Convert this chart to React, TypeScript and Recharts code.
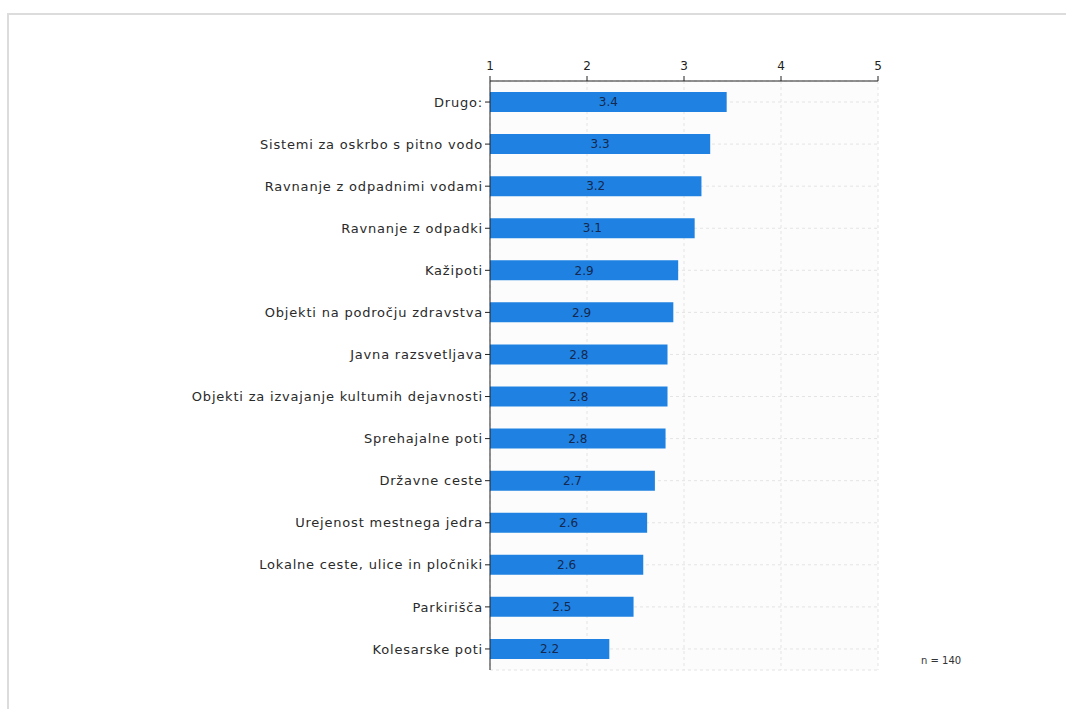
import React from "react";
import { BarChart, Bar, XAxis, YAxis, CartesianGrid, LabelList } from "recharts";

const categories = [
  "Drugo:",
  "Sistemi za oskrbo s pitno vodo",
  "Ravnanje z odpadnimi vodami",
  "Ravnanje z odpadki",
  "Kažipoti",
  "Objekti na področju zdravstva",
  "Javna razsvetljava",
  "Objekti za izvajanje kultumih dejavnosti",
  "Sprehajalne poti",
  "Državne ceste",
  "Urejenost mestnega jedra",
  "Lokalne ceste, ulice in pločniki",
  "Parkirišča",
  "Kolesarske poti",
];

const values = [3.44, 3.27, 3.18, 3.11, 2.94, 2.89, 2.83, 2.83, 2.81, 2.7, 2.62, 2.58, 2.48, 2.23];

const xTicks = [1, 2, 3, 4, 5];
const sampleNote = "n = 140";

const data = categories.map((name, i) => ({ name, value: values[i] }));

const FONT = "'DejaVu Sans', Verdana, sans-serif";

export default function App() {
  return (
    <div
      style={{
        position: "absolute",
        left: 0,
        top: 0,
        width: 1066,
        height: 709,
        overflow: "hidden",
        background: "#fff",
        fontFamily: FONT,
      }}
    >
      <div
        style={{
          position: "absolute",
          left: 7,
          top: 13,
          width: 1200,
          height: 900,
          border: "2px solid #dcdcdc",
          boxSizing: "border-box",
        }}
      />
      <div style={{ position: "absolute", left: 0, top: 0 }}>
        <BarChart
          width={1066}
          height={709}
          data={data}
          layout="vertical"
          margin={{ top: 51, right: 188, bottom: 39, left: 0 }}
          barSize={20}
        >
          <CartesianGrid
            strokeDasharray="3 3"
            stroke="#e4e4e4"
            fill="#fcfcfc"
          />
          <XAxis
            type="number"
            orientation="top"
            domain={[1, 5]}
            ticks={xTicks}
            height={30}
            tickSize={5}
            tickMargin={6}
            axisLine={{ stroke: "#222" }}
            tickLine={{ stroke: "#222" }}
            tick={{ fontSize: 12, fill: "#222", fontFamily: FONT }}
          />
          <YAxis
            type="category"
            dataKey="name"
            width={490}
            tickSize={5}
            tickMargin={2}
            interval={0}
            axisLine={{ stroke: "#222" }}
            tickLine={{ stroke: "#222" }}
            tick={{ fontSize: 13, fill: "#2a2a2a", fontFamily: FONT, letterSpacing: 0.8 }}
          />
          <Bar dataKey="value" fill="#1f82e2" isAnimationActive={false}>
            <LabelList
              dataKey="value"
              position="center"
              formatter={(v: number) => v.toFixed(1)}
              style={{ fontSize: 12, fill: "#15284f", fontFamily: FONT }}
            />
          </Bar>
        </BarChart>
      </div>
      <div
        style={{
          position: "absolute",
          left: 921,
          top: 655,
          fontSize: 10,
          color: "#333",
          fontFamily: FONT,
          whiteSpace: "nowrap",
        }}
      >
        {sampleNote}
      </div>
    </div>
  );
}
